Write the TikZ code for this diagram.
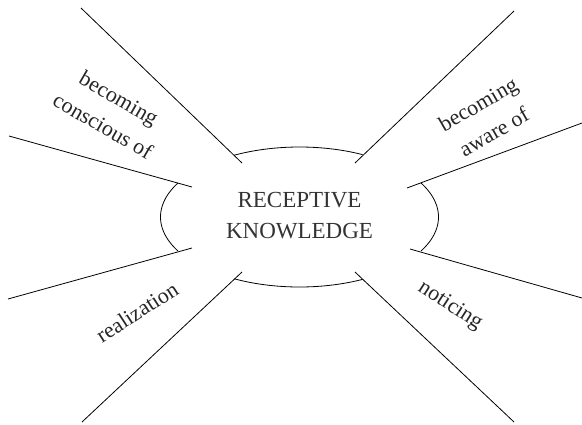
\documentclass[tikz,border=0pt]{standalone}
\usepackage{fontspec}
\setmainfont{Liberation Serif}
\begin{document}
\begin{tikzpicture}[x=1pt,y=-1pt,
  spoke/.style={line width=0.8pt, draw=black},
  rim/.style={line width=0.8pt, draw=black},
  lab/.style={font=\fontsize{22}{32}\selectfont, text=black!85, align=center, inner sep=0pt},
  core/.style={font=\fontsize{23}{31}\selectfont, text=black!80, align=center, inner sep=0pt}]
\useasboundingbox (0,0) rectangle (582,424);
% spoke end points
\coordinate (a1) at (81,8);    \coordinate (b1) at (242,163);
\coordinate (a2) at (9,136);   \coordinate (b2) at (192,187);
\coordinate (a3) at (8,299);   \coordinate (b3) at (192,248);
\coordinate (a4) at (82,422);  \coordinate (b4) at (242,272);
\coordinate (a5) at (514,422); \coordinate (b5) at (355,272);
\coordinate (a6) at (582,298); \coordinate (b6) at (410,249);
\coordinate (a7) at (582,123); \coordinate (b7) at (407,188);
\coordinate (a8) at (514,11);  \coordinate (b8) at (355,163);
\foreach \i in {1,...,8} \draw[spoke] (a\i) -- (b\i);
% ellipse pieces
\draw[rim] plot[domain=-118:-63, samples=50] ({299.5+139*cos(\x)},{217+70*sin(\x)});
\draw[rim] plot[domain=63:118, samples=50] ({299.5+139*cos(\x)},{217+70*sin(\x)});
\draw[rim] plot[domain=-29:29, samples=50] ({299.5+139*cos(\x)},{217+70*sin(\x)});
\draw[rim] plot[domain=151:209, samples=50] ({299.5+139*cos(\x)},{217+70*sin(\x)});
% texts
\node[core] (c) at (299.5,216) {RECEPTIVE\\KNOWLEDGE};
\node[lab, rotate=-30] (l1) at (111,112) {becoming\\conscious of};
\node[lab, rotate=30] (l2) at (486,118) {becoming\\aware of};
\node[lab, rotate=33] (l3) at (137,312) {realization};
\node[lab, rotate=-33] (l4) at (450,306) {noticing};
\end{tikzpicture}
\end{document}
